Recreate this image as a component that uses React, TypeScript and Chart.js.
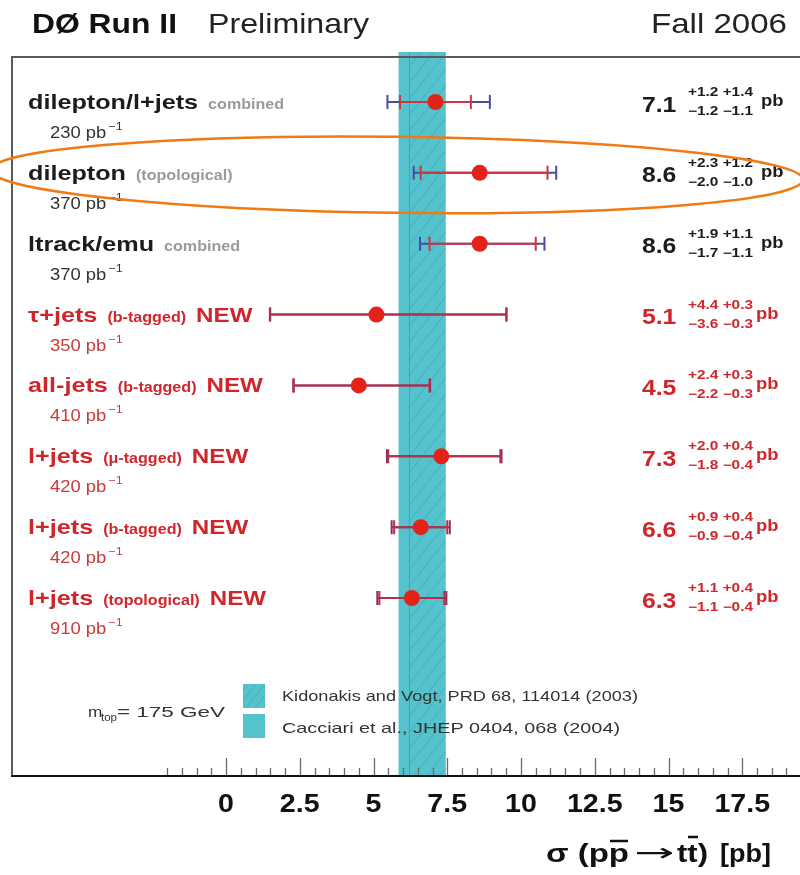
import React, { useEffect, useRef } from "react";
import { Chart, registerables } from "chart.js";
Chart.register(...registerables);

// ---------------- data ----------------
const channels = ["dilepton/l+jets", "dilepton", "ltrack/emu", "τ+jets", "all-jets", "l+jets", "l+jets", "l+jets"];
const methods = ["combined", "(topological)", "combined", "(b-tagged)", "(b-tagged)", "(μ-tagged)", "(b-tagged)", "(topological)"];
const isNew = [false, false, false, true, true, true, true, true];
const lumi = [230, 370, 370, 350, 410, 420, 420, 910];
const xsec = [7.1, 8.6, 8.6, 5.1, 4.5, 7.3, 6.6, 6.3];
const statUp = [1.2, 2.3, 1.9, 4.4, 2.4, 2.0, 0.9, 1.1];
const statDn = [1.2, 2.0, 1.7, 3.6, 2.2, 1.8, 0.9, 1.1];
const systUp = [1.4, 1.2, 1.1, 0.3, 0.3, 0.4, 0.4, 0.4];
const systDn = [1.1, 1.0, 1.1, 0.3, 0.3, 0.4, 0.4, 0.4];
const theoryLabels = ["Kidonakis and Vogt, PRD 68, 114014 (2003)", "Cacciari et al., JHEP 0404, 068 (2004)"];
const theoryLo = [6.22, 5.85];
const theoryHi = [7.45, 7.45];
const tickLabels = ["0", "2.5", "5", "7.5", "10", "12.5", "15", "17.5"];
const minorStart = -2.0;
const minorEnd = 19.0;
const minorStep = 0.5;
const majorStep = 2.5;

// ---------------- style ----------------
const FONT = '"Liberation Sans", Arial, Helvetica, sans-serif';
const SX = 1.15;
const BLACK = "#1c1c1c";
const RED = "#cf262c";
const RED_LIGHT = "#c93b3b";
const GRAY = "#9a9a9a";
const BAND = "#55c3cd";
const HATCH = "rgba(35,135,150,0.32)";
const DOT = "#e3221a";
const XMIN = (12 - 226) / 29.5;
const XMAX = (800 - 226) / 29.5;
const YMIN = (57 - 102) / 70.86;
const YMAX = (776 - 102) / 70.86;

function drawText(
  ctx: CanvasRenderingContext2D, s: string, x: number, y: number, size: number, weight: string, color: string,
  opts: { align?: "left" | "center" | "right"; width?: number; sx?: number; font?: string } = {}
): number {
  ctx.save();
  ctx.font = `${weight} ${size}px ${opts.font ?? FONT}`;
  ctx.fillStyle = color;
  ctx.textBaseline = "alphabetic";
  ctx.textAlign = "left";
  const w = ctx.measureText(s).width;
  const sx = opts.width ? opts.width / w : opts.sx ?? SX;
  let x0 = x;
  if (opts.align === "center") x0 = x - (w * sx) / 2;
  else if (opts.align === "right") x0 = x - w * sx;
  ctx.translate(x0, y);
  ctx.scale(sx, 1);
  ctx.fillText(s, 0, 0);
  ctx.restore();
  return w * sx;
}

function hatch(ctx: CanvasRenderingContext2D, x0: number, y0: number, x1: number, y1: number, spacing: number) {
  ctx.save();
  ctx.beginPath();
  ctx.rect(x0, y0, x1 - x0, y1 - y0);
  ctx.clip();
  ctx.strokeStyle = HATCH;
  ctx.lineWidth = 1;
  const h = y1 - y0;
  ctx.beginPath();
  for (let k = -h; k < x1 - x0 + spacing; k += spacing) {
    ctx.moveTo(x0 + k, y1);
    ctx.lineTo(x0 + k + h * 0.8, y0);
  }
  ctx.stroke();
  ctx.restore();
}

const backPlugin = {
  id: "backPlugin",
  beforeDraw(chart: any) {
    const ctx = chart.ctx as CanvasRenderingContext2D;
    ctx.save();
    ctx.fillStyle = "#ffffff";
    ctx.fillRect(0, 0, chart.width, chart.height);
    ctx.restore();
  },
  beforeDatasetsDraw(chart: any) {
    const ctx = chart.ctx as CanvasRenderingContext2D;
    const xs = chart.scales.x;
    const ys = chart.scales.y;
    const a = chart.chartArea;
    // theory band
    const bx0 = xs.getPixelForValue(theoryLo[1]);
    const bx1 = xs.getPixelForValue(theoryHi[1]);
    ctx.save();
    ctx.fillStyle = BAND;
    ctx.fillRect(bx0, a.top - 5, bx1 - bx0, a.bottom - a.top + 5);
    const hx0 = xs.getPixelForValue(theoryLo[0]);
    const hx1 = xs.getPixelForValue(theoryHi[0]);
    hatch(ctx, hx0, a.top - 5, hx1, a.bottom, 13);
    ctx.strokeStyle = "rgba(35,135,150,0.45)";
    ctx.lineWidth = 1;
    ctx.beginPath();
    ctx.moveTo(hx0, a.top - 5);
    ctx.lineTo(hx0, a.bottom);
    ctx.stroke();
    ctx.restore();

    // frame
    ctx.save();
    ctx.strokeStyle = "#5a5a5a";
    ctx.lineWidth = 2;
    ctx.beginPath();
    ctx.moveTo(a.left - 1, a.top);
    ctx.lineTo(a.right, a.top);
    ctx.moveTo(a.left, a.top);
    ctx.lineTo(a.left, a.bottom);
    ctx.stroke();
    // ticks
    ctx.strokeStyle = "#6a6a6a";
    ctx.lineWidth = 1.3;
    ctx.beginPath();
    for (let v = minorStart; v <= minorEnd + 1e-9; v += minorStep) {
      const px = Math.round(xs.getPixelForValue(v)) + 0.5;
      const isMajor = Math.abs(v / majorStep - Math.round(v / majorStep)) < 1e-6;
      const len = isMajor ? 18 : 8;
      ctx.moveTo(px, a.bottom);
      ctx.lineTo(px, a.bottom - len);
    }
    ctx.stroke();
    // axis line
    ctx.strokeStyle = "#111";
    ctx.lineWidth = 2;
    ctx.beginPath();
    ctx.moveTo(a.left - 1, a.bottom);
    ctx.lineTo(a.right, a.bottom);
    ctx.stroke();
    ctx.restore();

    // error bars
    ctx.save();
    ctx.lineWidth = 2;
    for (let i = 0; i < xsec.length; i++) {
      const y = ys.getPixelForValue(i);
      const v = xsec[i];
      const tu = Math.hypot(statUp[i], systUp[i]);
      const td = Math.hypot(statDn[i], systDn[i]);
      const xTL = xs.getPixelForValue(v - td);
      const xTH = xs.getPixelForValue(v + tu);
      const xSL = xs.getPixelForValue(v - statDn[i]);
      const xSH = xs.getPixelForValue(v + statUp[i]);
      const totC = isNew[i] ? "#8a2e5c" : "#4b4ba2";
      const statC = isNew[i] ? "#b3304a" : "#d2343e";
      ctx.strokeStyle = totC;
      ctx.beginPath();
      ctx.moveTo(xTL, y);
      ctx.lineTo(xTH, y);
      ctx.moveTo(xTL, y - 7);
      ctx.lineTo(xTL, y + 7);
      ctx.moveTo(xTH, y - 7);
      ctx.lineTo(xTH, y + 7);
      ctx.stroke();
      ctx.strokeStyle = statC;
      ctx.beginPath();
      ctx.moveTo(xSL, y);
      ctx.lineTo(xSH, y);
      ctx.moveTo(xSL, y - 7);
      ctx.lineTo(xSL, y + 7);
      ctx.moveTo(xSH, y - 7);
      ctx.lineTo(xSH, y + 7);
      ctx.stroke();
    }
    ctx.restore();
  },
};

const frontPlugin = {
  id: "frontPlugin",
  afterDatasetsDraw(chart: any) {
    const ctx = chart.ctx as CanvasRenderingContext2D;
    const xs = chart.scales.x;
    const ys = chart.scales.y;

    // header
    drawText(ctx, "DØ Run II", 32, 33, 28, "bold", "#111", { width: 145 });
    drawText(ctx, "Preliminary", 208, 33, 28, "normal", "#222", { width: 161 });
    drawText(ctx, "Fall 2006", 651, 33, 28, "normal", "#222", { width: 136 });

    // rows
    for (let i = 0; i < channels.length; i++) {
      const y = ys.getPixelForValue(i);
      const main = isNew[i] ? RED : BLACK;
      const sub = isNew[i] ? RED : GRAY;
      let x = 28;
      x += drawText(ctx, channels[i], x, y + 7, 21, "bold", main, { sx: 1.2 });
      x += 10;
      x += drawText(ctx, methods[i], x, y + 7, 14, "bold", sub);
      if (isNew[i]) {
        x += 10;
        drawText(ctx, "NEW", x, y + 7, 21, "bold", RED);
      }
      const lc = isNew[i] ? RED_LIGHT : "#333";
      const lw = drawText(ctx, `${lumi[i]} pb`, 50, y + 36, 16, "normal", lc);
      drawText(ctx, "−1", 50 + lw + 2, y + 28, 11, "normal", lc);

      // right-hand values
      const vc = isNew[i] ? RED : BLACK;
      drawText(ctx, xsec[i].toFixed(1), 642, y + 9.5, 21.5, "bold", vc);
      drawText(ctx, `+${statUp[i].toFixed(1)} +${systUp[i].toFixed(1)}`, 688, y - 6, 12, "bold", vc, { width: 65 });
      drawText(ctx, `−${statDn[i].toFixed(1)} −${systDn[i].toFixed(1)}`, 688, y + 13, 12, "bold", vc, { width: 65 });
      drawText(ctx, "pb", isNew[i] ? 756 : 761, y + 4, 16, "bold", vc);
    }

    // legend
    ctx.save();
    ctx.fillStyle = BAND;
    ctx.fillRect(243, 684, 22, 24);
    hatch(ctx, 243, 684, 265, 708, 9);
    ctx.fillStyle = BAND;
    ctx.fillRect(243, 714, 22, 24);
    ctx.restore();
    drawText(ctx, theoryLabels[0], 282, 701, 15, "normal", "#333", { width: 356 });
    drawText(ctx, theoryLabels[1], 282, 733, 15, "normal", "#333", { width: 338 });
    drawText(ctx, "m", 88, 717, 15, "normal", "#333");
    drawText(ctx, "top", 101, 721, 10, "normal", "#333");
    drawText(ctx, "= 175 GeV", 117, 717, 15, "normal", "#333", { width: 108 });

    // tick labels
    tickLabels.forEach((t) => {
      drawText(ctx, t, xs.getPixelForValue(parseFloat(t)), 812, 26, "bold", "#111", { align: "center", sx: 1.1 });
    });

    // axis title: σ (p p̄ → t t̄) [pb]
    const tyb = 862, tsize = 25;
    drawText(ctx, "σ (pp", 546, tyb, tsize, "bold", "#111", { width: 83 });
    drawText(ctx, "→", 634, tyb - 1, tsize, "normal", "#111", { width: 40, font: '"DejaVu Sans", sans-serif' });
    drawText(ctx, "tt)", 677, tyb, tsize, "bold", "#111", { width: 31 });
    drawText(ctx, "[pb]", 720, tyb, tsize, "bold", "#111", { width: 51 });
    ctx.save();
    ctx.strokeStyle = "#111";
    ctx.lineWidth = 2.5;
    ctx.beginPath();
    ctx.moveTo(610, tyb - 21);
    ctx.lineTo(628, tyb - 21);
    ctx.moveTo(688, tyb - 25);
    ctx.lineTo(698, tyb - 25);
    ctx.stroke();
    ctx.restore();

    // highlight ellipse around the dilepton (topological) row
    ctx.save();
    ctx.strokeStyle = "#f07a14";
    ctx.lineWidth = 2.5;
    ctx.beginPath();
    ctx.ellipse(397, ys.getPixelForValue(1) + 2, 406, 38, 0.012, 0, Math.PI * 2);
    ctx.stroke();
    ctx.restore();
  },
};

export default function App() {
  const ref = useRef<HTMLCanvasElement>(null);
  useEffect(() => {
    const canvas = ref.current!;
    const chart = new Chart(canvas, {
      type: "scatter",
      data: {
        datasets: [
          {
            data: xsec.map((v, i) => ({ x: v, y: i })),
            pointRadius: 8,
            pointHoverRadius: 8,
            backgroundColor: DOT,
            borderWidth: 0,
          },
        ],
      },
      options: {
        responsive: false,
        animation: false,
        devicePixelRatio: 1,
        events: [],
        layout: { autoPadding: false, padding: { left: 12, right: 0, top: 57, bottom: 99 } },
        scales: {
          x: { type: "linear", min: XMIN, max: XMAX, display: false },
          y: { type: "linear", min: YMIN, max: YMAX, reverse: true, display: false },
        },
        plugins: { legend: { display: false }, tooltip: { enabled: false } },
      },
      plugins: [backPlugin, frontPlugin],
    } as any);
    return () => chart.destroy();
  }, []);
  return (
    <div style={{ position: "absolute", left: 0, top: 0, width: 800, height: 875, background: "#fff" }}>
      <canvas ref={ref} width={800} height={875} style={{ display: "block", width: 800, height: 875 }} />
    </div>
  );
}
